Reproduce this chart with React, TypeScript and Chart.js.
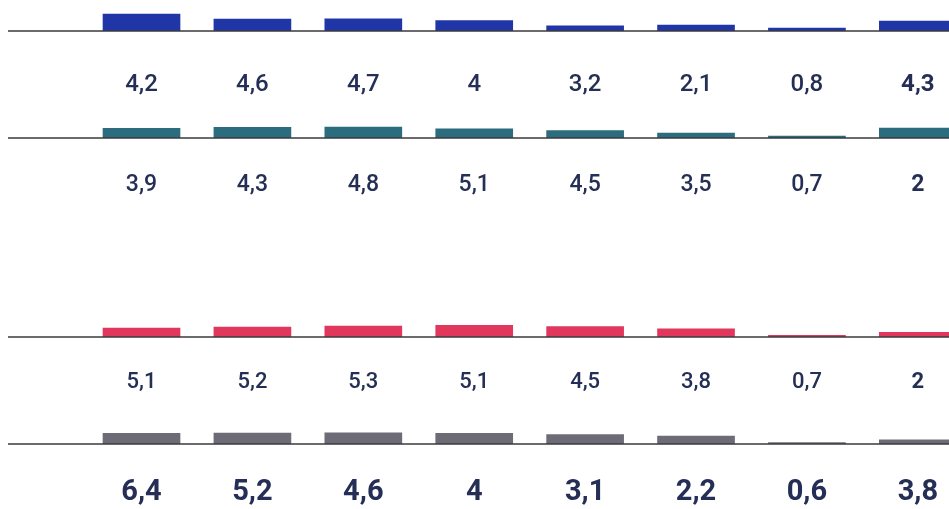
import React, { useEffect, useRef } from "react";
import { Chart, registerables } from "chart.js";
Chart.register(...registerables);

// Column index of each group (no category names are printed)
const columns = [0, 1, 2, 3, 4, 5, 6, 7];
// Series values (decimal comma in print). The top series' labels are cut off.
const seriesA = [7.4, 5.2, 5.3, 4.5, 2.2, 2.6, 1.3, 4.3];
const seriesB = [4.2, 4.6, 4.7, 4, 3.2, 2.1, 0.8, 4.3];
const seriesC = [3.9, 4.3, 4.8, 5.1, 4.5, 3.5, 0.7, 2];
const seriesD = [5.1, 5.2, 5.3, 5.1, 4.5, 3.8, 0.7, 2];
const seriesE = [6.4, 5.2, 4.6, 4, 3.1, 2.2, 0.6, 3.8];
const boldColumn = 7;

type Row = {
  values: number[];
  color: string;
  labelY: number;
  baseY: number;
  fontSize: number;
  allBold: boolean;
  yMax: number;
};

const LABEL_PAD = 40;
const BAR_AREA = 46;
const TEXT_COLOR = "#252f55";
const FONT = 'Roboto, "Noto Sans", sans-serif';

const rows: Row[] = [
  { values: seriesA, color: "#2136a6", labelY: -15, baseY: 31, fontSize: 23, allBold: false, yMax: 20 },
  { values: seriesB, color: "#2b6c7f", labelY: 91, baseY: 138, fontSize: 24, allBold: false, yMax: 20 },
  { values: seriesC, color: "#e1375d", labelY: 191, baseY: 337, fontSize: 23, allBold: false, yMax: 20 },
  { values: seriesD, color: "#6d6c76", labelY: 388, baseY: 444, fontSize: 22, allBold: false, yMax: 22 },
  { values: seriesE, color: "#6d6c76", labelY: 500, baseY: 560, fontSize: 29, allBold: true, yMax: 20 },
];

const fmt = (v: number) => String(v).replace(".", ",");

function RowChart({ row }: { row: Row }) {
  const ref = useRef<HTMLCanvasElement | null>(null);
  const top = row.labelY - LABEL_PAD;
  const height = row.baseY - top + 3;

  useEffect(() => {
    if (!ref.current) return;
    const overlay = {
      id: "rowOverlay",
      afterDatasetsDraw(chart: any) {
        const { ctx, chartArea, scales } = chart;
        ctx.save();
        ctx.strokeStyle = "#3a3a3e";
        ctx.lineWidth = 1.5;
        ctx.beginPath();
        ctx.moveTo(8, chartArea.bottom);
        ctx.lineTo(chart.width, chartArea.bottom);
        ctx.stroke();
        ctx.fillStyle = TEXT_COLOR;
        ctx.textAlign = "center";
        ctx.textBaseline = "alphabetic";
        row.values.forEach((v, i) => {
          const bold = row.allBold || columns[i] === boldColumn;
          ctx.font = `${bold ? 700 : 500} ${row.fontSize}px ${FONT}`;
          ctx.fillText(fmt(v), scales.x.getPixelForValue(columns[i]), LABEL_PAD);
        });
        ctx.restore();
      },
    };
    const chart = new Chart(ref.current, {
      type: "bar",
      data: {
        datasets: [
          {
            data: row.values.map((v, i) => ({ x: columns[i], y: v })),
            backgroundColor: row.color,
            borderWidth: 0,
            barThickness: 77,
          },
        ],
      },
      options: {
        responsive: false,
        animation: false,
        devicePixelRatio: 1,
        layout: { padding: { top: height - 3 - BAR_AREA, bottom: 3, left: 0, right: 0 } },
        scales: {
          x: { type: "linear", display: false, min: -1.276, max: 7.281, offset: false },
          y: { display: false, min: 0, max: row.yMax },
        },
        plugins: { legend: { display: false }, tooltip: { enabled: false } },
      },
      plugins: [overlay],
    } as any);
    return () => chart.destroy();
  }, [row, height]);

  return (
    <canvas
      ref={ref}
      width={949}
      height={height}
      style={{ position: "absolute", left: 0, top, width: 949, height, display: "block" }}
    />
  );
}

export default function App() {
  return (
    <div
      style={{
        position: "fixed",
        left: 0,
        top: 0,
        width: 949,
        height: 509,
        overflow: "hidden",
        background: "#ffffff",
      }}
    >
      {rows.map((r, i) => (
        <RowChart key={i} row={r} />
      ))}
    </div>
  );
}
